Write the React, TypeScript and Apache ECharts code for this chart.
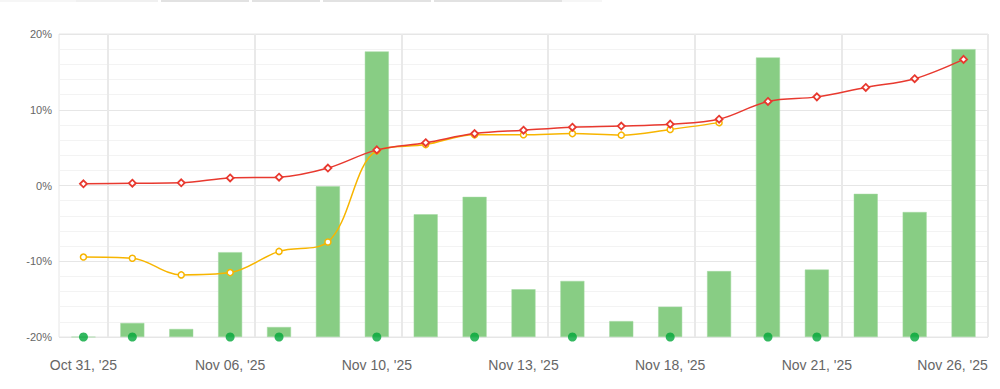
import React, { useEffect, useRef } from "react";
import * as echarts from "echarts";

const categories = [
  "Oct 31, '25", "Nov 03, '25", "Nov 04, '25", "Nov 06, '25", "Nov 07, '25",
  "Nov 09, '25", "Nov 10, '25", "Nov 11, '25", "Nov 12, '25", "Nov 13, '25",
  "Nov 14, '25", "Nov 17, '25", "Nov 18, '25", "Nov 19, '25", "Nov 20, '25",
  "Nov 21, '25", "Nov 24, '25", "Nov 25, '25", "Nov 26, '25",
];

// red line (%)
const redValues = [0.22, 0.3, 0.35, 1.0, 1.1, 2.3, 4.7, 5.65, 6.85, 7.3, 7.7, 7.85, 8.1, 8.75, 11.1, 11.7, 12.95, 14.1, 16.65];
// yellow line (%)
const yellowValues = [-9.45, -9.6, -11.8, -11.5, -8.7, -7.45, 4.6, 5.4, 6.7, 6.7, 6.85, 6.65, 7.4, 8.3, null, null, null, null, null];
// bar heights (own scale 0..40)
const barValues = [0, 1.85, 1.06, 11.2, 1.32, 19.9, 37.7, 16.2, 18.5, 6.3, 7.4, 2.1, 4.0, 8.7, 36.9, 8.9, 18.9, 16.5, 38];
// indices of days with a green dot
const dotIndices = [0, 1, 3, 4, 6, 8, 10, 12, 14, 15, 17];

const yTicks = { min: -20, max: 20, interval: 10 };

export default function App() {
  const ref = useRef<HTMLDivElement>(null);
  useEffect(() => {
    document.body.style.margin = "0";
    if (!ref.current) return;
    const chart = echarts.init(ref.current, undefined, { renderer: "svg" });
    const last = categories.length - 1;
    chart.setOption({
      animation: false,
      backgroundColor: "#ffffff",
      textStyle: { fontFamily: "'Liberation Sans', Arial, sans-serif" },
      graphic: [
        { type: "rect", shape: { x: 0, y: 0, width: 76, height: 2 }, style: { fill: "#f6f6f6" } },
        { type: "rect", shape: { x: 76, y: 0, width: 82, height: 2 }, style: { fill: "#f0f0f0" } },
        { type: "rect", shape: { x: 161, y: 0, width: 88, height: 2 }, style: { fill: "#e2e2e2" } },
        { type: "rect", shape: { x: 252, y: 0, width: 68, height: 2 }, style: { fill: "#e2e2e2" } },
        { type: "rect", shape: { x: 323, y: 0, width: 108, height: 2 }, style: { fill: "#e2e2e2" } },
        { type: "rect", shape: { x: 434, y: 0, width: 128, height: 2 }, style: { fill: "#e2e2e2" } },
        { type: "rect", shape: { x: 562, y: 0, width: 40, height: 2 }, style: { fill: "#f6f6f6" } },
      ],
      grid: {
        left: 59,
        right: 12,
        top: 34,
        bottom: 52,
        show: true,
        borderColor: "#e6e6e6",
        borderWidth: 1,
      },
      xAxis: {
        type: "category",
        data: categories.map((c, i) =>
          i === last ? { value: c, textStyle: { padding: [0, 22, 0, 0] } } : c
        ),
        boundaryGap: true,
        axisLine: { show: false },
        axisTick: { show: false },
        axisLabel: {
          interval: 2,
          color: "#666666",
          fontSize: 14,
          margin: 21,
        },
        splitLine: {
          show: true,
          interval: (i: number) => i % 3 === 1,
          lineStyle: { color: "#e9e9e9", width: 2 },
        },
      },
      yAxis: [
        {
          type: "value",
          min: yTicks.min,
          max: yTicks.max,
          interval: yTicks.interval,
          axisLine: { show: false },
          axisTick: { show: false },
          axisLabel: { formatter: "{value}%", color: "#666666", fontSize: 11, margin: 7 },
          splitLine: { show: true, lineStyle: { color: "#e6e6e6", width: 1 } },
          minorTick: { show: false, splitNumber: 5 },
          minorSplitLine: { show: true, lineStyle: { color: "#f3f3f3", width: 1 } },
        },
        {
          type: "value",
          min: 0,
          max: 40,
          show: false,
          splitLine: { show: false },
        },
      ],
      series: [
        {
          type: "bar",
          yAxisIndex: 1,
          data: barValues,
          barWidth: 24,
          itemStyle: { color: "#88cd84", borderColor: "#a3d9a0", borderWidth: 0.5 },
          z: 1,
        },
        {
          type: "line",
          data: yellowValues,
          smooth: 0.35,
          symbol: "circle",
          symbolSize: 6,
          showSymbol: true,
          lineStyle: { color: "#f7b500", width: 1.5 },
          itemStyle: { color: "#ffffff", borderColor: "#f7b500", borderWidth: 1.5 },
          z: 3,
        },
        {
          type: "line",
          data: redValues,
          smooth: 0.35,
          symbol: "diamond",
          symbolSize: 7,
          showSymbol: true,
          lineStyle: { color: "#e8392f", width: 1.5 },
          itemStyle: { color: "#ffffff", borderColor: "#e8392f", borderWidth: 1.8 },
          z: 4,
        },
        {
          type: "scatter",
          data: dotIndices.map((i) => [i, yTicks.min]),
          symbol: "circle",
          symbolSize: 9,
          clip: false,
          itemStyle: { color: "#00a638" },
          z: 5,
        },
      ],
    });
    return () => chart.dispose();
  }, []);
  return <div ref={ref} style={{ width: 1000, height: 389 }} />;
}
